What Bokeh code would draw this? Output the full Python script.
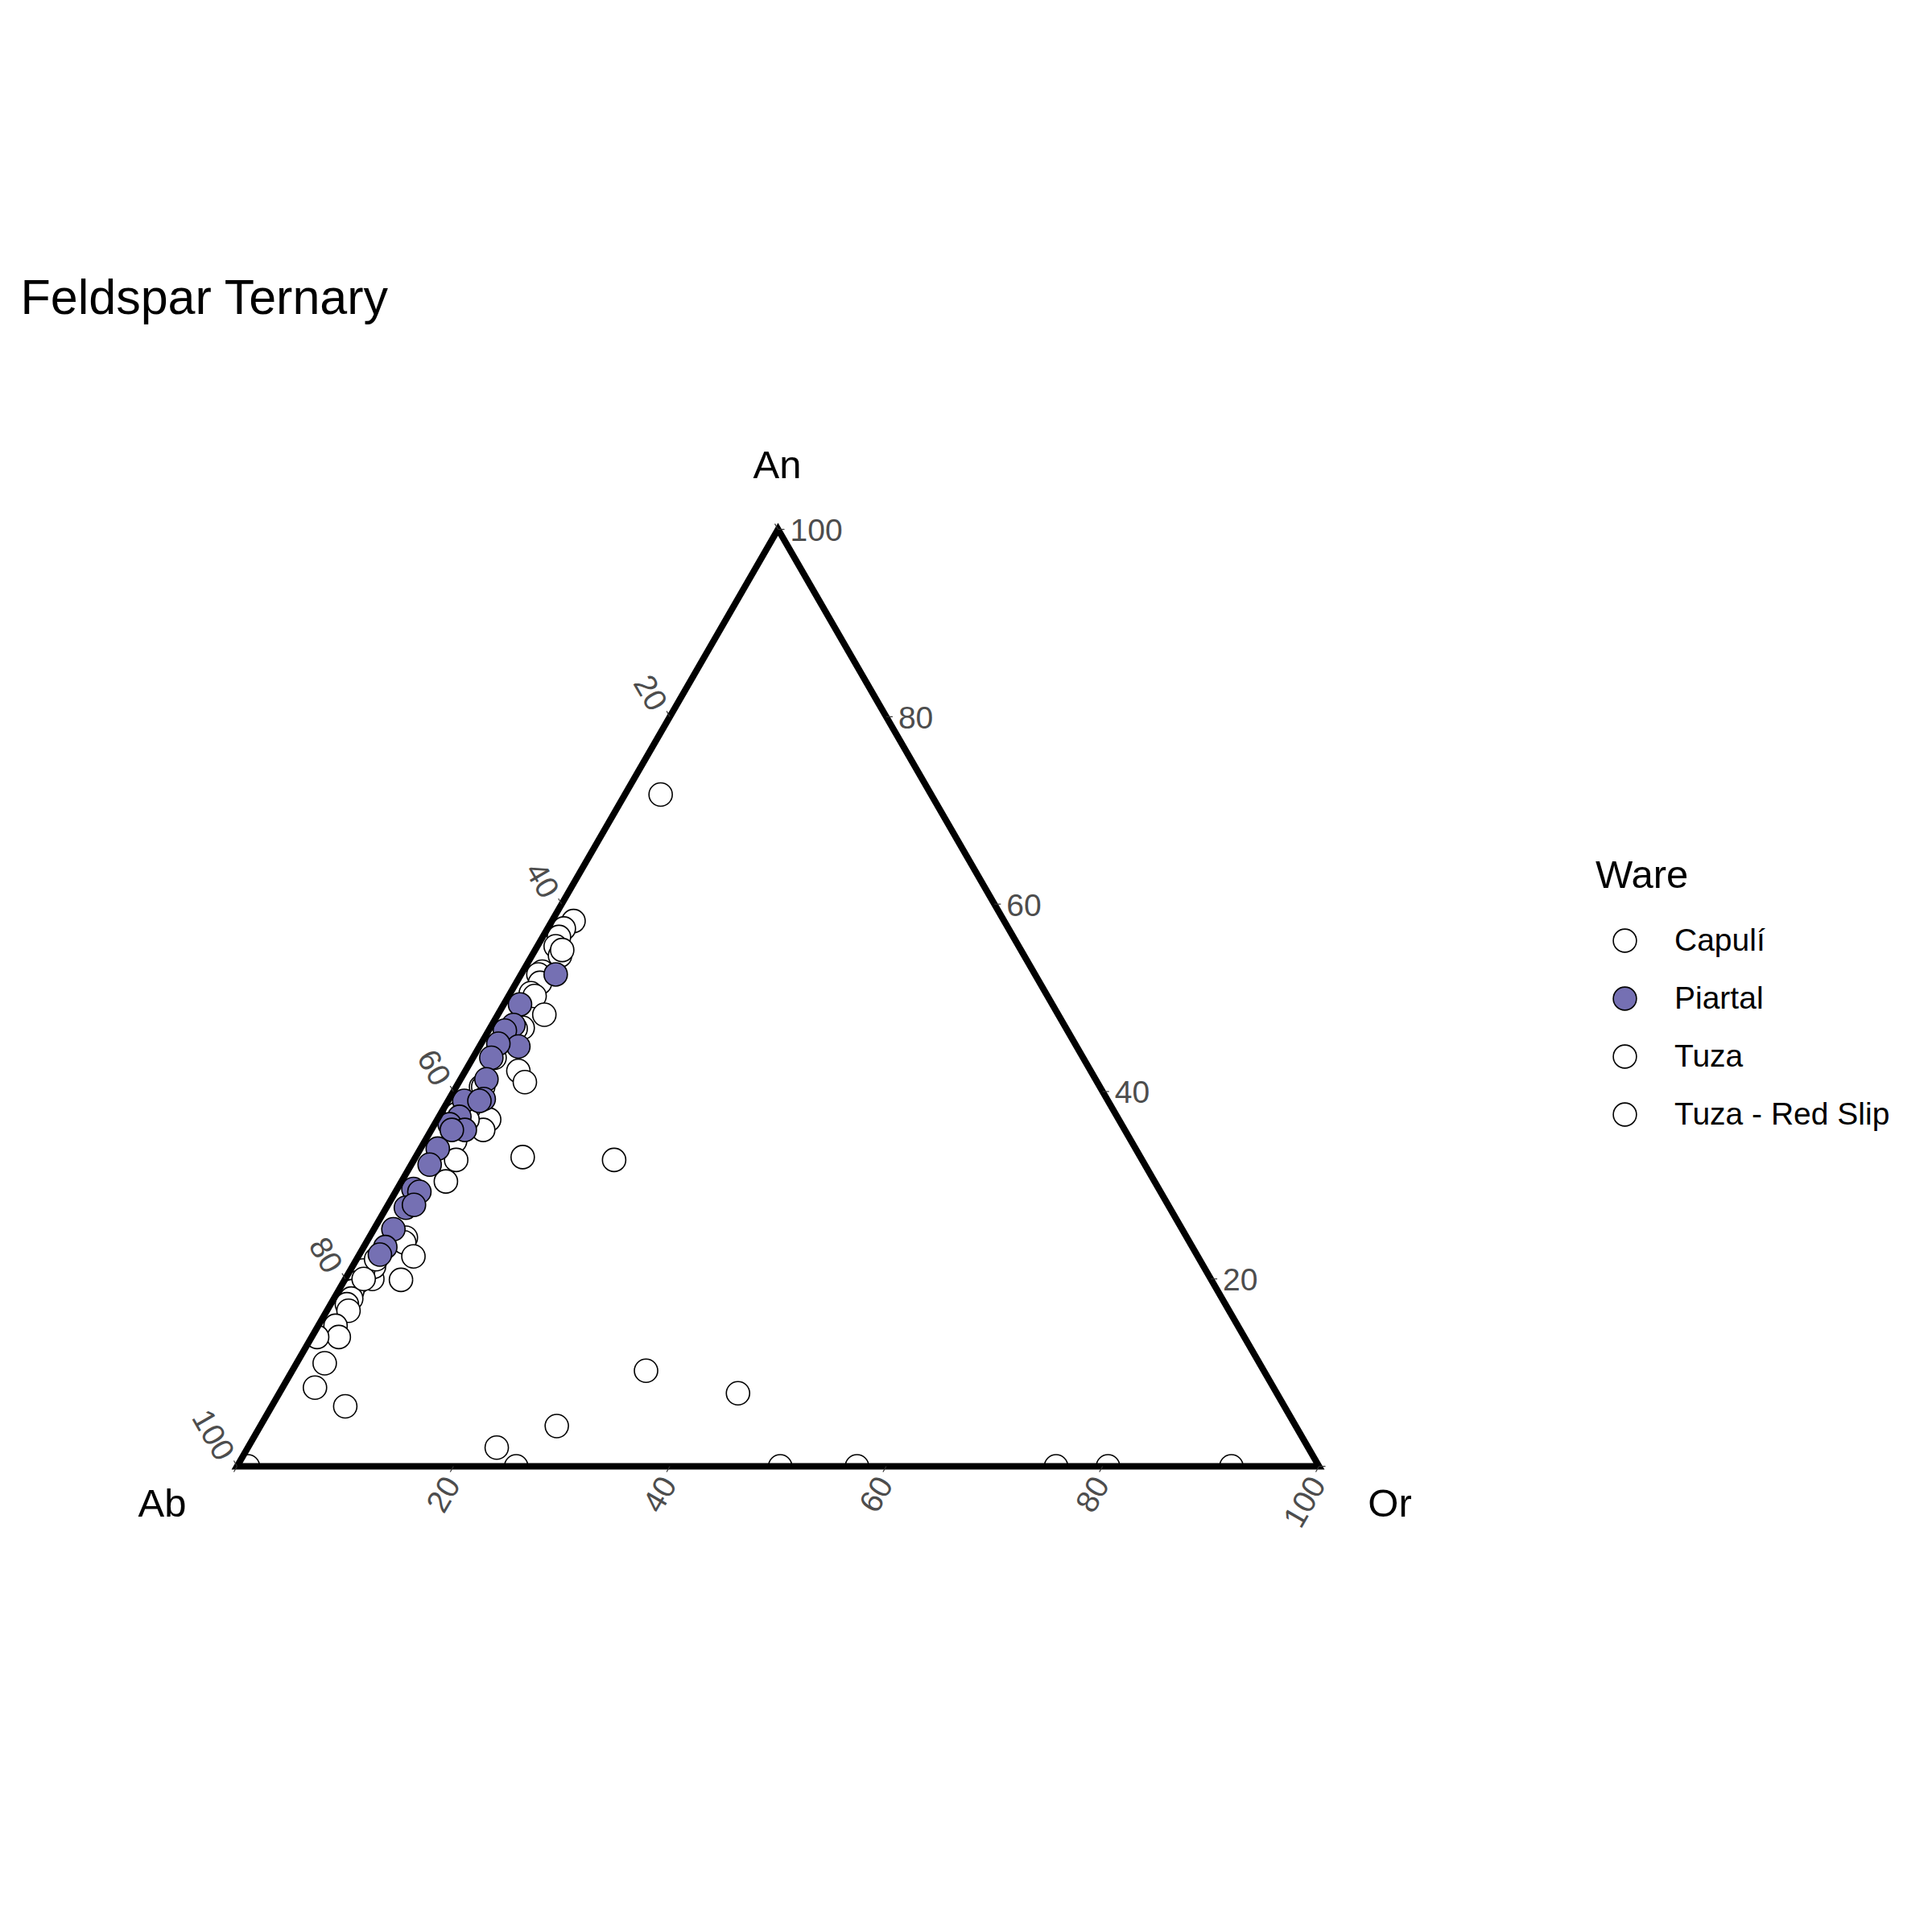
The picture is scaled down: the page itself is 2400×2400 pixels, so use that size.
import math
from bokeh.plotting import figure
from bokeh.models import Range1d, Label, Legend, LegendItem
from bokeh.embed import file_html
from bokeh.resources import INLINE
from bokeh.core.properties import value

# ---------------- data (percent An, percent Or; Ab is the remainder) ----------------
title_text = "Feldspar Ternary"
legend_title = "Ware"
ware_names = ["Capulí", "Piartal", "Tuza", "Tuza - Red Slip"]
ware_fill = ["white", "#7570B3", "white", "white"]

capuli_an = [58.2, 57.4, 56.5, 55.5, 54.5, 52.8, 52.5, 51.6, 50.5, 50.2, 48.2, 46.8, 46.7,
             43.6, 55.1, 42.2, 41.0, 40.5, 40.5, 38.2, 37.0, 35.9, 37.0, 37.6, 34.7, 32.7, 30.4]
capuli_or = [2.0, 1.5, 1.5, 1.7, 2.6, 1.8, 1.6, 2.2, 1.9, 2.4, 4.3, 3.0, 2.4,
             2.0, 2.5, 4.9, 6.1, 2.3, 2.5, 3.4, 4.8, 4.8, 2.8, 1.5, 2.8, 3.9, 4.1]

piartal_an = [52.5, 49.3, 47.1, 46.5, 44.8, 45.1, 43.6, 41.3, 39.2, 39.0, 37.3, 36.5,
              35.9, 35.9, 33.9, 32.2, 29.6, 29.3, 27.6, 27.9, 25.3, 23.4, 22.6, 39.0]
piartal_or = [3.2, 1.5, 2.0, 1.5, 3.6, 1.6, 1.7, 2.4, 3.2, 1.5, 1.9, 1.4,
              3.1, 1.9, 1.6, 1.7, 1.5, 2.2, 1.8, 2.4, 1.8, 2.0, 1.9, 2.9]

tuza_an = [24.4, 23.9, 22.4, 19.9, 20.0, 21.3, 20.9, 19.6, 18.7, 17.9, 17.3, 16.6,
           15.0, 13.8, 13.8, 11.0, 8.4, 6.4, 20.0, 22.1]
tuza_or = [3.4, 3.5, 5.1, 5.2, 2.5, 2.0, 1.2, 1.3, 1.3, 1.6, 1.5, 2.0,
           1.6, 2.5, 0.5, 2.6, 3.0, 6.8, 1.7, 1.8]

redslip_an = [0.0, 71.7, 32.7, 33.0, 10.2, 7.8, 4.3, 2.0, 0.0, 0.0, 0.0, 0.0, 0.0, 0.0]
redslip_or = [1.0, 3.3, 18.5, 9.9, 32.7, 42.4, 27.4, 23.0, 25.8, 50.2, 57.3, 75.7, 80.5, 91.9]

axis_ticks = [0, 20, 40, 60, 80, 100]
axis_labels = ["20", "40", "60", "80", "100"]
vertex_names = ["Ab", "An", "Or"]

# ---------------- layout ----------------
W = H = 2400
S = 1344.0       # pixels per triangle side
X0 = 294.0       # Ab vertex from left
Y0 = 579.0       # Ab vertex from bottom
H3 = math.sqrt(3) / 2
FONT = "Liberation Sans"


def tern(an, orr):
    xs = [o / 100.0 + a / 200.0 for a, o in zip(an, orr)]
    ys = [a / 100.0 * H3 for a in an]
    return xs, ys


xr0, xr1 = -X0 / S, (W - X0) / S
yr0, yr1 = -Y0 / S, (H - Y0) / S

p = figure(width=W, height=H, output_backend="svg", toolbar_location=None,
           x_range=Range1d(xr0, xr1), y_range=Range1d(yr0, yr1),
           x_axis_location=None, y_axis_location=None, min_border=0)
p.xgrid.grid_line_color = None
p.ygrid.grid_line_color = None
p.outline_line_color = None
p.background_fill_color = "white"
p.border_fill_color = "white"

# points (Piartal drawn last so it sits on top, legend keeps the ware order)
groups_an = [capuli_an, piartal_an, tuza_an, redslip_an]
groups_or = [capuli_or, piartal_or, tuza_or, redslip_or]
renderers = [None] * 4
for idx in [0, 2, 3, 1]:
    xs, ys = tern(groups_an[idx], groups_or[idx])
    renderers[idx] = p.scatter(xs, ys, marker="circle", size=29, fill_color=ware_fill[idx],
                               line_color="black", line_width=1.6)

# mask outside the triangle (clip)
tri_x = [0.0, 1.0, 0.5]
tri_y = [0.0, 0.0, H3]
p.multi_polygons(xs=[[[[xr0, xr1, xr1, xr0], tri_x]]],
                 ys=[[[[yr0, yr0, yr1, yr1], tri_y]]],
                 fill_color="white", line_color=None)

# triangle border
p.patch(tri_x, tri_y, fill_color=None, line_color="black", line_width=8,
        line_join="miter")

# ticks
tl = 8.0 / S
sx0, sy0, sx1, sy1 = [], [], [], []
for t in axis_ticks:
    # right edge (An)
    x, y = (100 - t) / 100.0 + t / 200.0, t / 100.0 * H3
    sx0.append(x); sy0.append(y); sx1.append(x + tl); sy1.append(y)
    # bottom edge (Or)
    x, y = t / 100.0, 0.0
    sx0.append(x); sy0.append(y); sx1.append(x - 0.5 * tl); sy1.append(y - H3 * tl)
    # left edge (Ab)
    x, y = (100 - t) / 200.0, (100 - t) / 100.0 * H3
    sx0.append(x); sy0.append(y); sx1.append(x - 0.5 * tl); sy1.append(y + H3 * tl)
p.segment(sx0, sy0, sx1, sy1, line_color="#333333", line_width=1.2)

# tick labels
lab_vals = [float(s) for s in axis_labels]
an_x = [(100 - t) / 100.0 + t / 200.0 for t in lab_vals]
an_y = [t / 100.0 * H3 for t in lab_vals]
p.text(an_x, an_y, text=axis_labels, text_align="left", text_baseline="middle",
       x_offset=15, y_offset=1, text_font=value(FONT), text_font_size="39px",
       text_color="#4D4D4D")
or_x = [t / 100.0 for t in lab_vals]
or_y = [0.0 for t in lab_vals]
p.text(or_x, or_y, text=axis_labels, text_align="right", text_baseline="middle",
       angle=math.pi / 3, x_offset=-2, y_offset=16, text_font=value(FONT),
       text_font_size="39px", text_color="#4D4D4D")
ab_x = [(100 - t) / 200.0 for t in lab_vals]
ab_y = [(100 - t) / 100.0 * H3 for t in lab_vals]
p.text(ab_x, ab_y, text=axis_labels, text_align="right", text_baseline="middle",
       angle=-math.pi / 3, x_offset=-13, y_offset=-11, text_font=value(FONT),
       text_font_size="39px", text_color="#4D4D4D")

# vertex labels
for name, sx, sy in zip(vertex_names, [201, 965, 1726], [H - 1866, H - 576, H - 1866]):
    p.add_layout(Label(x=sx, y=sy, x_units="screen", y_units="screen", text=name,
                       text_align="center", text_baseline="alphabetic",
                       text_font=FONT, text_font_size="49px", text_color="black"))

# title
p.add_layout(Label(x=25, y=H - 368, x_units="screen", y_units="screen", text=title_text,
                   text_align="left", text_baseline="alphabetic", text_font=FONT,
                   text_font_size="61px", text_color="black"))

# legend
legend = Legend(items=[LegendItem(label=n, renderers=[r]) for n, r in zip(ware_names, renderers)],
                location=(1982, 980), title=legend_title,
                title_text_font=FONT, title_text_font_size="49px", title_text_font_style="normal",
                title_text_color="black",
                label_text_font=FONT, label_text_font_size="39px", label_text_color="black",
                glyph_width=72, glyph_height=72, label_height=72, spacing=0,
                padding=0, margin=0, label_standoff=26, title_standoff=18,
                border_line_color=None, background_fill_alpha=0)
p.add_layout(legend)

open("out.html", "w").write(file_html(p, INLINE))
